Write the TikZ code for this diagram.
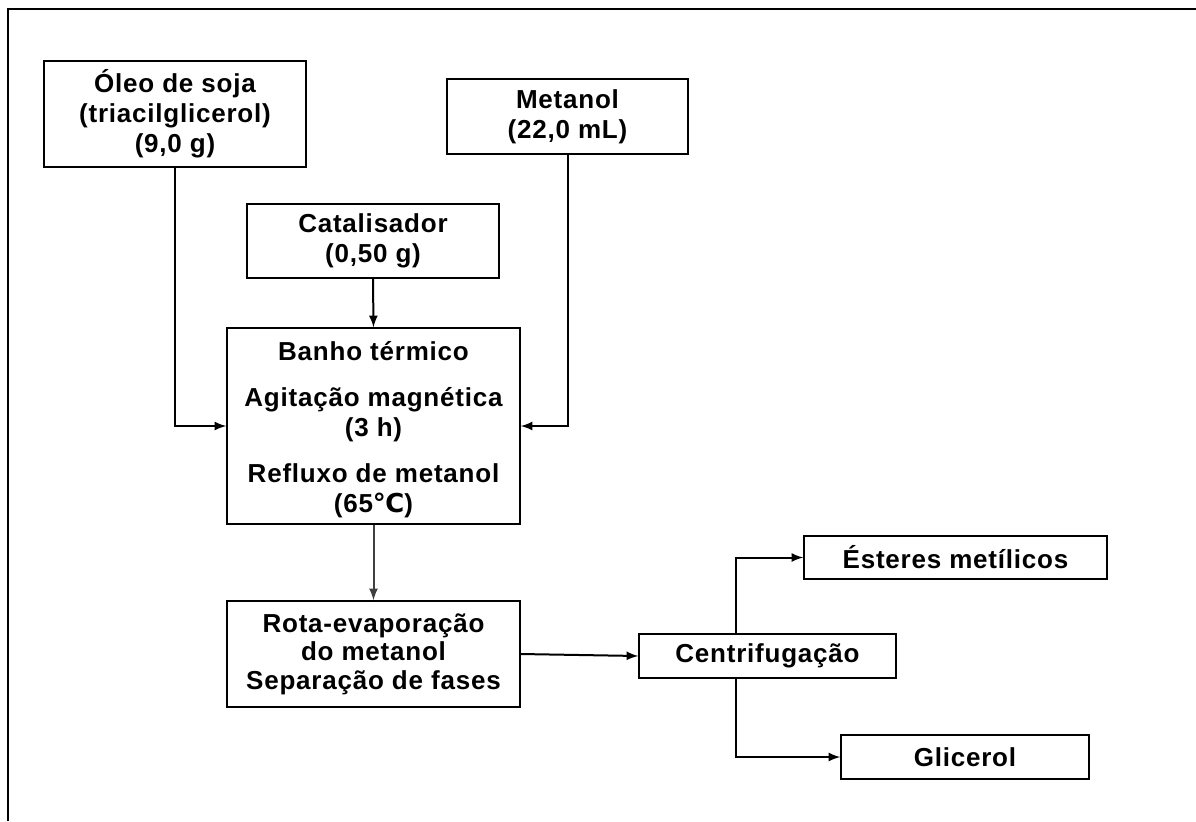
\documentclass[tikz,border=0pt]{standalone}
\usepackage{fontspec}
\setmainfont{Liberation Sans}[LetterSpace=3]
\newfontfamily\dejavu{DejaVu Sans}
\usetikzlibrary{arrows}

\tikzset{
 caixa/.style={draw, line width=0.75pt, inner sep=0pt, align=center, font=\fontsize{13}{15}\selectfont\bfseries},
 liga/.style={line width=1pt, ->, >=latex},
}

\begin{document}
\begin{tikzpicture}[x=0.5pt, y=-0.5pt]
\useasboundingbox (0,0) rectangle (1196,821);
\draw[line width=0.75pt] (8,821) -- (8,9) -- (1196,9);
% entradas
\node[caixa, minimum width=131pt, minimum height=53pt] (oleo) at (175,114) {Óleo de soja\\(triacilglicerol)\\(9,0 g)};
\node[caixa, minimum width=120.5pt, minimum height=37.5pt] (metanol) at (567.5,116.5) {Metanol\\(22,0 mL)};
\node[caixa, minimum width=126pt, minimum height=37pt] (cat) at (373,241) {Catalisador\\(0,50 g)};
% processo
\node[caixa, minimum width=146.5pt, minimum height=98pt] (banho) at (373.5,426) {\rule{0pt}{13pt}Banho térmico\\[8pt]Agitação magnética\\(3 h)\\[8pt]Refluxo de metanol\\(65{\dejavu ℃})};
\node[caixa, minimum width=146.5pt, minimum height=53pt, font=\fontsize{13}{14.25}\selectfont\bfseries] (rota) at (373.5,654) {Rota-evaporação\\do metanol\\Separação de fases};
\node[caixa, minimum width=128.5pt, minimum height=22pt] (centr) at (767.5,656) {Centrifugação};
% produtos
\node[caixa, minimum width=151.5pt, minimum height=21.5pt] (ester) at (955.5,557.5) {Ésteres metílicos};
\node[caixa, minimum width=124pt, minimum height=22pt] (glic) at (965,757) {Glicerol};
% ligacoes
\draw[liga] (oleo.south) |- (banho.west);
\draw[liga] (metanol.south) |- (banho.east);
\draw[liga] (cat.south) -- (banho.north);
\draw[liga, black!75] (banho.south) -- (rota.north);
\draw[liga] (rota.east) -- (centr.west);
\draw[liga] ([xshift=-15.75pt]centr.north) |- (ester.west);
\draw[liga] ([xshift=-15.75pt]centr.south) |- (glic.west);
\end{tikzpicture}
\end{document}
